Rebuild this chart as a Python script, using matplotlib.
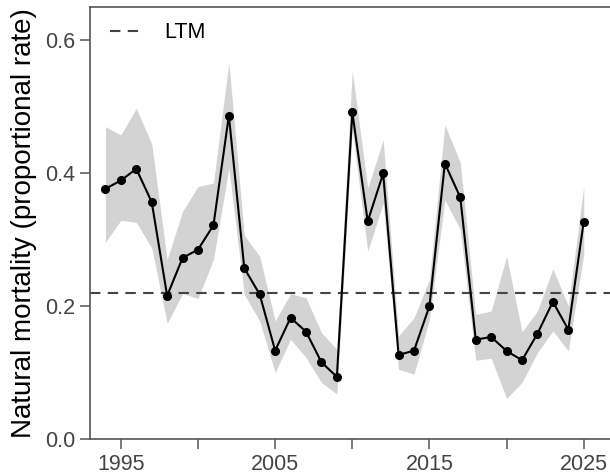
import matplotlib
matplotlib.use("Agg")
import matplotlib.pyplot as plt

years = list(range(1994, 2026))
mortality = [0.3765, 0.389, 0.4065, 0.3565, 0.2155, 0.2725, 0.285, 0.3215,
             0.4865, 0.257, 0.2175, 0.133, 0.1825, 0.1615, 0.1155, 0.0935,
             0.4915, 0.3275, 0.3995, 0.1265, 0.133, 0.200, 0.4145, 0.3635,
             0.1495, 0.1535, 0.1325, 0.1185, 0.1585, 0.2065, 0.1645, 0.327]
upper = [0.470, 0.4575, 0.4975, 0.444, 0.270, 0.3425, 0.380, 0.385,
         0.5665, 0.3065, 0.275, 0.1775, 0.2185, 0.2125, 0.160, 0.135,
         0.554, 0.3775, 0.450, 0.155, 0.1825, 0.240, 0.4725, 0.416,
         0.1875, 0.1925, 0.275, 0.1615, 0.1925, 0.256, 0.200, 0.380]
lower = [0.296, 0.329, 0.326, 0.2875, 0.174, 0.219, 0.2115, 0.270,
         0.4075, 0.2175, 0.1775, 0.100, 0.150, 0.1225, 0.085, 0.0675,
         0.465, 0.2825, 0.355, 0.105, 0.0975, 0.180, 0.360, 0.315,
         0.1185, 0.1215, 0.061, 0.085, 0.130, 0.1625, 0.1325, 0.2775]
ltm = 0.22
xticks = [1995, 2000, 2005, 2010, 2015, 2020, 2025]
xticklabels = ["1995", "", "2005", "", "2015", "", "2025"]
yticks = [0.0, 0.2, 0.4, 0.6]
yticklabels = ["0.0", "0.2", "0.4", "0.6"]

plt.rcParams['font.family'] = ['Liberation Sans', 'DejaVu Sans']

fig = plt.figure(figsize=(6.10, 4.76), dpi=100)
ax = fig.add_axes([90/610, 1 - 439/476, (614.6 - 90)/610, (439 - 7)/476])

ax.fill_between(years, lower, upper, color='#d3d3d3', linewidth=0, zorder=1)
ax.axhline(ltm, color='#444444', linestyle=(0, (5, 3.5)), linewidth=1.5, zorder=2, label='LTM')
ax.plot(years, mortality, color='black', linewidth=1.5, marker='o', markersize=5.5, zorder=3)

ax.set_xlim(1993, 2027)
ax.set_ylim(0, 0.65)
ax.set_xticks(xticks)
ax.set_xticklabels(xticklabels)
ax.set_yticks(yticks)
ax.set_yticklabels(yticklabels)

for s in ax.spines.values():
    s.set_color('#555555')
    s.set_linewidth(1.2)
ax.tick_params(axis='both', colors='#555555', labelcolor='#444444', labelsize=15.5,
               length=7.5, width=1.1, pad=3)
ax.set_ylabel('Natural mortality (proportional rate)', fontsize=20, color='black', labelpad=6)

ax.legend(loc='upper left', frameon=False, fontsize=15.5, handlelength=1.6,
          handletextpad=0.9, borderaxespad=0.3, bbox_to_anchor=(0.01, 1.0))

fig.savefig('out.png', dpi=100)
